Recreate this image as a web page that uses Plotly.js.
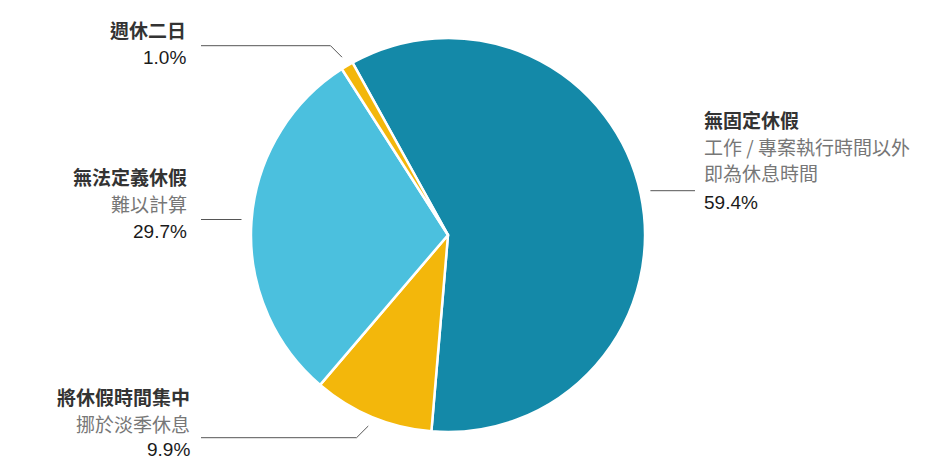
<!DOCTYPE html>
<html>
<head>
<meta charset="utf-8">
<script src="https://cdn.plot.ly/plotly-3.0.1.min.js"></script>
<style>
  html, body { margin: 0; padding: 0; background: #ffffff; }
  #chart { width: 940px; height: 470px; }
</style>
</head>
<body>
<div id="chart"></div>
<script>
// Vacation arrangements: share of respondents
const categories = ['無固定休假', '將休假時間集中', '無法定義休假', '週休二日'];
const subtitles = [
  ['工作 / 專案執行時間以外', '即為休息時間'],
  ['挪於淡季休息'],
  ['難以計算'],
  []
];
const shares = [59.4, 9.9, 29.7, 1.0];
const sliceColors = ['#1489a8', '#f3b70b', '#4bc0de', '#f3b70b'];

// Canvas geometry (pixels)
const W = 940, H = 470;
const CX = 448, CY = 235, R = 195;
const START_DEG = -29;          // first slice starts here, clockwise from 12 o'clock

// Label placement for each slice: side, y of the leader's horizontal run,
// x where the run ends, and x where the text block is anchored.
const labelLayout = [
  { side: 'right', lineY: 190.7, lineEnd: 695, textX: 703, lineTops: [120, 147, 172] },
  { side: 'left',  lineY: 437.7, lineEnd: 201, textX: 191, lineTops: [396, 423] },
  { side: 'left',  lineY: 219.5, lineEnd: 201, textX: 188, lineTops: [177, 204] },
  { side: 'left',  lineY: 45.7,  lineEnd: 201, textX: 187, lineTops: [30] }
];

const px = x => x / W;
const py = y => 1 - y / H;

// Mid-angle of each slice from the data
const total = shares.reduce((a, b) => a + b, 0);
let acc = START_DEG;
const midAngles = shares.map(v => {
  const span = v / total * 360;
  const mid = acc + span / 2;
  acc += span;
  return mid;
});

const shapes = [];
const annotations = [];
const LEADER = { color: '#555555', width: 1 };

categories.forEach((name, i) => {
  const L = labelLayout[i];
  const a = midAngles[i] * Math.PI / 180;
  const ax = CX + (R + 12) * Math.sin(a);
  const ay = CY - (R + 12) * Math.cos(a);
  const dy = Math.abs(L.lineY - ay);
  let ex = ax, ey = ay;
  if (dy > 2) {
    ex = L.side === 'left' ? ax - dy : ax + dy;
    ey = L.lineY;
    shapes.push({ type: 'line', xref: 'paper', yref: 'paper',
      x0: px(ax), y0: py(ay), x1: px(ex), y1: py(ey), line: LEADER });
  }
  shapes.push({ type: 'line', xref: 'paper', yref: 'paper',
    x0: px(ex), y0: py(L.lineY), x1: px(L.lineEnd), y1: py(L.lineY), line: LEADER });

  const lines = [
    { text: '<b>' + name + '</b>', color: '#333333' },
    ...subtitles[i].map(s => ({ text: s, color: '#777777' }))
  ];
  lines.forEach((ln, k) => {
    annotations.push({
      xref: 'paper', yref: 'paper', x: px(L.textX), y: py(L.lineTops[k]),
      xanchor: L.side === 'left' ? 'right' : 'left', yanchor: 'middle',
      showarrow: false, borderpad: 0, text: ln.text,
      font: { family: 'Noto Sans CJK TC, sans-serif', size: 19, color: ln.color }
    });
  });
  annotations.push({
    xref: 'paper', yref: 'paper', x: px(L.textX), y: py(L.lineY + 11.8),
    xanchor: L.side === 'left' ? 'right' : 'left', yanchor: 'middle',
    showarrow: false, borderpad: 0, text: shares[i].toFixed(1) + '%',
    font: { family: 'Liberation Sans, Arial, sans-serif', size: 19, color: '#1a1a1a' }
  });
});

// Plotly trims the drawn radius slightly, so the domain is padded a little
const RD = R + 2;
const trace = {
  type: 'pie',
  labels: categories,
  values: shares,
  sort: false,
  direction: 'clockwise',
  rotation: START_DEG,
  marker: { colors: sliceColors, line: { color: '#ffffff', width: 2.5 } },
  textinfo: 'none',
  hoverinfo: 'none',
  showlegend: false,
  domain: { x: [px(CX - RD), px(CX + RD)], y: [py(CY + RD), py(CY - RD)] }
};

const layout = {
  width: W, height: H,
  margin: { l: 0, r: 0, t: 0, b: 0 },
  paper_bgcolor: '#ffffff',
  showlegend: false,
  shapes: shapes,
  annotations: annotations
};

Plotly.newPlot('chart', [trace], layout, { displayModeBar: false, staticPlot: true });
</script>
</body>
</html>
